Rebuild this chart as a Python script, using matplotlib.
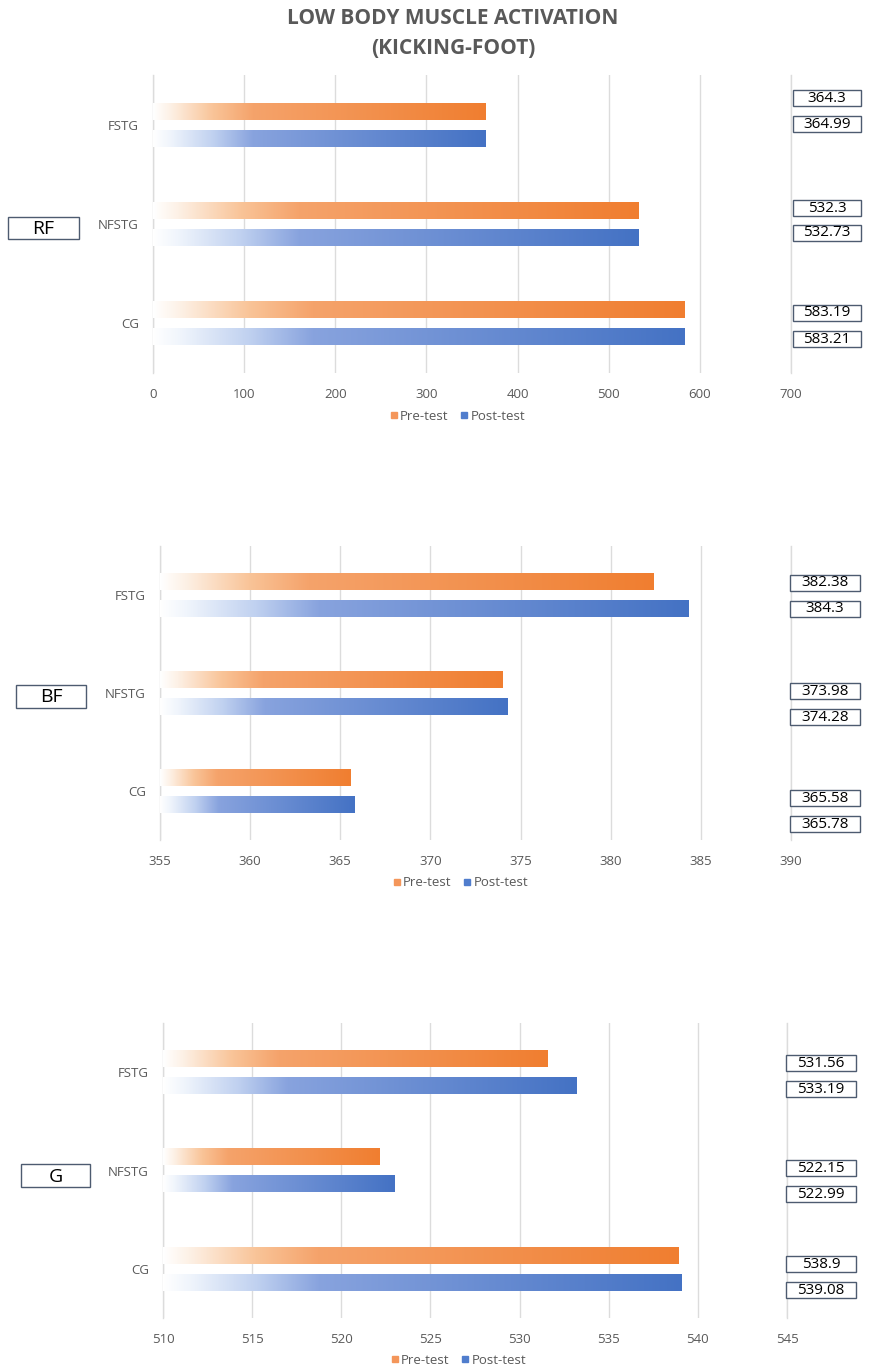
import numpy as np
import matplotlib
matplotlib.use("Agg")
import matplotlib.pyplot as plt
from matplotlib.patches import Rectangle
from matplotlib.lines import Line2D

plt.rcParams["font.family"] = ["Open Sans", "DejaVu Sans"]

# ---- data ----
groups = ["FSTG", "NFSTG", "CG"]
series = ["Pre-test", "Post-test"]

rf_pre = [364.3, 532.3, 583.19]
rf_post = [364.99, 532.73, 583.21]

bf_pre = [382.38, 373.98, 365.58]
bf_post = [384.3, 374.28, 365.78]

g_pre = [531.56, 522.15, 538.9]
g_post = [533.19, 522.99, 539.08]

rf_ticks = [0, 100, 200, 300, 400, 500, 600, 700]
bf_ticks = [355, 360, 365, 370, 375, 380, 385, 390]
g_ticks = [510, 515, 520, 525, 530, 535, 540, 545]

muscles = ["RF", "BF", "G"]

# ---- layout (pixels) ----
W, H = 869, 1372
DPI = 100

panels = [
    dict(name=muscles[0], pre=rf_pre, post=rf_post, ticks=rf_ticks,
         ax_px=(153, 791, 75, 373), legend_px=(457, 416),
         tag_px=(8, 79, 217, 239),
         box_x=(793, 861), box_y=[97.5, 123.5, 208, 232.5, 312.5, 339]),
    dict(name=muscles[1], pre=bf_pre, post=bf_post, ticks=bf_ticks,
         ax_px=(160, 791, 546, 840), legend_px=(460, 883),
         tag_px=(16, 86, 685, 708),
         box_x=(790, 860), box_y=[582.5, 608.5, 691, 717, 797.5, 824]),
    dict(name=muscles[2], pre=g_pre, post=g_post, ticks=g_ticks,
         ax_px=(163, 787, 1023, 1318), legend_px=(458, 1360),
         tag_px=(21, 90, 1164, 1187),
         box_x=(786, 856), box_y=[1063, 1089, 1168, 1194, 1264, 1290]),
]

GRID = "#dcdcdc"
TXT = "#595959"
EDGE = "#4d5b70"

# gradient stops: position along bar -> colour
stops_t = [0.0, 0.05, 0.18, 0.30, 1.0]
orange_stops = [(255, 255, 255), (253, 241, 230), (249, 196, 152),
                (245, 163, 107), (240, 126, 48)]
blue_stops = [(255, 255, 255), (240, 245, 252), (192, 209, 240),
              (136, 163, 222), (68, 114, 196)]


def gradient(stops, n=400):
    t = np.linspace(0, 1, n)
    arr = np.array(stops, dtype=float) / 255.0
    rgb = np.stack([np.interp(t, stops_t, arr[:, k]) for k in range(3)], axis=-1)
    return rgb[np.newaxis, :, :]


grad_orange = gradient(orange_stops)
grad_blue = gradient(blue_stops)


def fx(px):
    return px / W


def fy(py):
    return 1 - py / H


fig = plt.figure(figsize=(W / DPI, H / DPI), dpi=DPI)

fig.text(fx(453), fy(18), "LOW BODY MUSCLE ACTIVATION", ha="center", va="center",
         fontsize=15, fontweight="bold", color=TXT)
fig.text(fx(453), fy(49), "(KICKING-FOOT)", ha="center", va="center",
         fontsize=15, fontweight="bold", color=TXT)

bar_h = 0.17
offsets = (-0.137, 0.137)

for p in panels:
    l, r, t, b = p["ax_px"]
    ax = fig.add_axes([fx(l), fy(b), fx(r - l), (b - t) / H])
    xmin, xmax = p["ticks"][0], p["ticks"][-1]
    ypos = np.arange(len(groups))

    for vals, off, grad in ((p["pre"], offsets[0], grad_orange),
                            (p["post"], offsets[1], grad_blue)):
        for y, v in zip(ypos, vals):
            ax.imshow(grad, extent=(xmin, v, y + off + bar_h / 2, y + off - bar_h / 2),
                      aspect="auto", interpolation="bilinear", zorder=3)

    ax.set_xlim(xmin, xmax)
    ax.set_ylim(len(groups) - 0.5, -0.5)
    ax.set_xticks(p["ticks"])
    ax.set_yticks(ypos)
    ax.set_yticklabels(groups)
    ax.tick_params(axis="both", length=0, labelcolor=TXT, labelsize=9.5)
    ax.tick_params(axis="x", pad=11)
    ax.tick_params(axis="y", pad=10)
    for s in ax.spines.values():
        s.set_visible(False)
    ax.grid(axis="x", color=GRID, linewidth=1, zorder=0)
    ax.set_axisbelow(True)
    for xv in (xmin, xmax):
        ax.axvline(xv, color=GRID, linewidth=1, zorder=0, clip_on=False)

    # legend
    handles = [Line2D([], [], marker="s", linestyle="none", markersize=5,
                      color=np.array(c) / 255) for c in ((244, 150, 90), (80, 125, 205))]
    fig.legend(handles, series, loc="center", ncol=2, frameon=False,
               bbox_to_anchor=(fx(p["legend_px"][0]), fy(p["legend_px"][1])),
               bbox_transform=fig.transFigure, fontsize=9.5, labelcolor=TXT,
               handletextpad=0.1, columnspacing=0.8, handlelength=0.8)

    # muscle tag on the left
    x0, x1, y0, y1 = p["tag_px"]
    fig.patches.append(Rectangle((fx(x0), fy(y1)), fx(x1 - x0), (y1 - y0) / H,
                                 transform=fig.transFigure, facecolor="white",
                                 edgecolor=EDGE, linewidth=1))
    fig.text(fx((x0 + x1) / 2), fy((y0 + y1) / 2 + 1), p["name"], ha="center",
             va="center", fontsize=14, color="black")

    # value boxes on the right
    values = []
    for a, c in zip(p["pre"], p["post"]):
        values += [a, c]
    bx0, bx1 = p["box_x"]
    bh = 16
    for v, yc in zip(values, p["box_y"]):
        fig.patches.append(Rectangle((fx(bx0), fy(yc + bh / 2)), fx(bx1 - bx0), bh / H,
                                     transform=fig.transFigure, facecolor="white",
                                     edgecolor=EDGE, linewidth=1))
        fig.text(fx((bx0 + bx1) / 2), fy(yc + 0.5), f"{v:g}", ha="center",
                 va="center", fontsize=11, color="black")

fig.savefig("out.png", dpi=DPI, facecolor="white")
